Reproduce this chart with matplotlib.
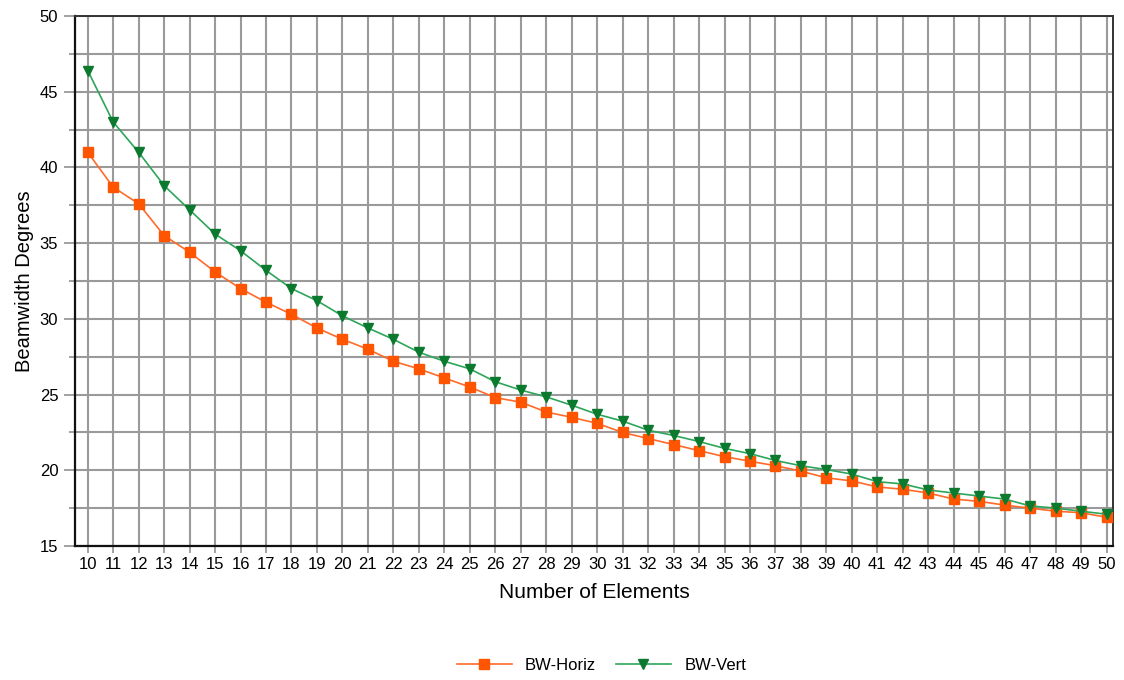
import numpy as np
import matplotlib
matplotlib.use("Agg")
import matplotlib.pyplot as plt
from matplotlib.ticker import MultipleLocator

plt.rcParams["font.family"] = ["Liberation Sans", "DejaVu Sans"]

elements = list(range(10, 51))
bw_horiz = [41.0, 38.7, 37.6, 35.5, 34.4, 33.1, 32.0, 31.1, 30.3, 29.4,
            28.65, 28.0, 27.2, 26.7, 26.1, 25.5, 24.8, 24.5, 23.85, 23.5,
            23.1, 22.5, 22.1, 21.7, 21.3, 20.9, 20.6, 20.3, 19.95, 19.5,
            19.3, 18.9, 18.75, 18.5, 18.1, 17.95, 17.7, 17.5, 17.3, 17.2,
            16.9]
bw_vert = [46.4, 43.0, 41.0, 38.8, 37.2, 35.6, 34.5, 33.2, 32.0, 31.2,
           30.2, 29.4, 28.65, 27.8, 27.2, 26.7, 25.85, 25.3, 24.85, 24.3,
           23.7, 23.25, 22.65, 22.3, 21.9, 21.45, 21.1, 20.65, 20.3, 20.05,
           19.75, 19.25, 19.1, 18.7, 18.5, 18.3, 18.1, 17.65, 17.5, 17.3,
           17.1]

fig = plt.figure(figsize=(11.24, 6.8), dpi=100)
ax = fig.add_axes([0.0667, 0.197, 0.9235, 0.7795])

ax.plot(elements, bw_horiz, color="#FF6A2A", lw=1.2, marker="s", ms=7,
        mfc="#FF5500", mec="#FF5500", label="BW-Horiz", zorder=3)
ax.plot(elements, bw_vert, color="#2DA55A", lw=1.2, marker="v", ms=7.5,
        mfc="#0C7A2E", mec="#0C7A2E", label="BW-Vert", zorder=3)

ax.set_xlim(9.5, 50.25)
ax.set_ylim(15, 50)
ax.set_xticks(elements)
ax.yaxis.set_major_locator(MultipleLocator(5))
ax.yaxis.set_minor_locator(MultipleLocator(2.5))

ax.grid(True, which="both", axis="y", color="#9a9a9a", lw=1.5)
ax.grid(True, which="major", axis="x", color="#9a9a9a", lw=1.5)
ax.set_axisbelow(True)

ax.tick_params(axis="y", which="major", length=8, width=1.3, color="#9a9a9a",
               labelsize=12, pad=4)
ax.tick_params(axis="y", which="minor", length=4, width=1.3, color="#9a9a9a")
ax.tick_params(axis="x", length=5, width=1.3, color="#9a9a9a", labelsize=12,
               pad=3)

for s in ["left", "bottom"]:
    ax.spines[s].set_color("#111111")
    ax.spines[s].set_linewidth(1.6)
for s in ["top", "right"]:
    ax.spines[s].set_color("#333333")
    ax.spines[s].set_linewidth(1.4)

ax.set_xlabel("Number of Elements", fontsize=15, labelpad=8)
ax.set_ylabel("Beamwidth Degrees", fontsize=14.5, labelpad=4)

fig.legend(loc="center", bbox_to_anchor=(0.535, 0.022), ncol=2, frameon=False,
           fontsize=12, handlelength=3.3, columnspacing=1.2)

fig.savefig("out.png", dpi=100)
